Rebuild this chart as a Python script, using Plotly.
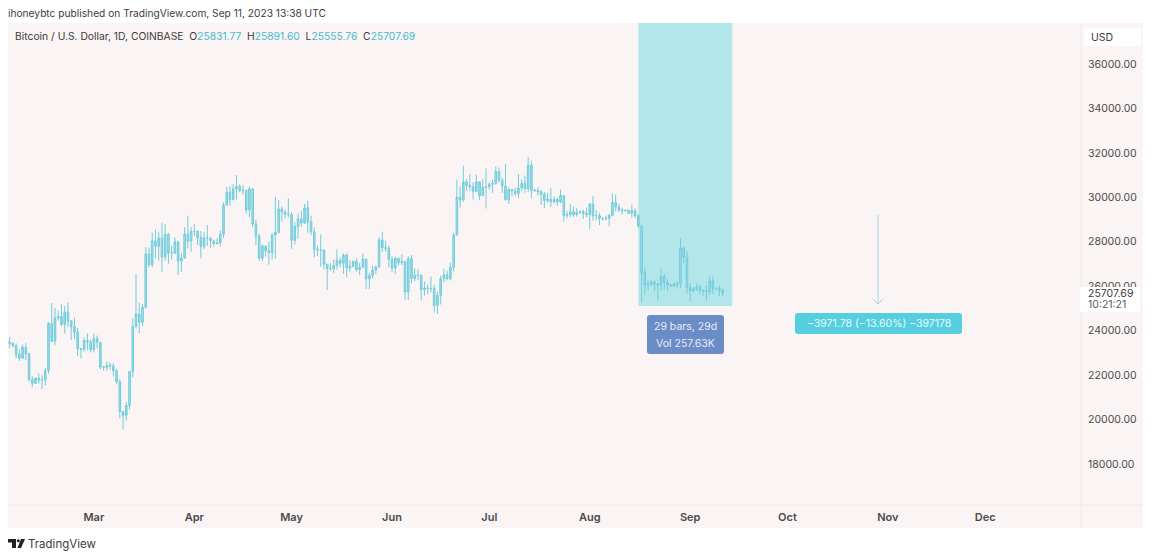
import pandas as pd
import plotly.graph_objects as go

# daily candles, Feb 3 - Sep 11 2023
start_date = "2023-02-03"

opens = [
    23490, 23430, 23330, 22940, 22760, 23250, 22960, 21800, 21630, 21860, 21780, 21780, 22200,
    24330, 23520, 24570, 24630, 24280, 24840, 24440, 24180, 23930, 23190, 23160, 23560, 23490,
    23140, 23640, 23470, 22360, 22350, 22430, 22410, 22200, 21710, 20360, 20190, 20630, 22160,
    24200, 24750, 24380, 25050, 27450, 26970, 28040, 27800, 28170, 27310, 28340, 27490, 27490,
    28000, 27140, 27270, 28350, 28030,
    28470, 28460, 28200, 27800, 28170, 28170, 28040, 27920, 27950, 28330, 29650, 30230, 29890,
    30390, 30480, 30310, 30320, 29430, 30380, 28800, 28250, 27260, 27810, 27590, 27510, 28300,
    28420, 29470, 29340, 29240,
    29230, 28070, 28680, 29030, 28840, 29530, 28900, 28450, 27660, 27630, 27630, 26990, 26800,
    26780, 26930, 27170, 27030, 27400, 26820, 26890, 27110, 26750, 26850, 27220, 26330, 26480,
    26720, 26870, 28080, 27740, 27700,
    27210, 26820, 27250, 27070, 27120, 25740, 27240, 26350, 26500, 26480, 25850, 25920, 25900,
    25900, 25130, 25590, 26340, 26510, 26340, 26850, 28310, 30000, 29890, 30690, 30540, 30480,
    30270, 30690, 30080, 30450,
    30480, 30590, 30620, 31160, 30770, 30510, 29900, 30350, 30290, 30170, 30420, 30620, 30390,
    31450, 30320, 30300, 30250, 30140, 29860, 29910, 29800, 29900, 29790, 30080, 29180, 29230,
    29350, 29220, 29320, 29360, 29280,
    29230, 29700, 29170, 29180, 29050, 29040, 29050, 29180, 29770, 29560, 29430, 29400, 29420,
    29280, 29400, 29170, 28700, 26620, 26050, 26100, 26190, 26120, 26040, 26430, 26160, 26060,
    26010, 26090, 26110, 27720, 27300,
    25930, 25800, 25870, 25970, 25820, 25780, 25750, 26240, 25900, 25900, 25831.77,
]
highs = [
    23710, 23470, 23430, 23160, 23370, 23450, 23010, 21950, 21910, 22090, 21990, 22320, 24380,
    25250, 25020, 24900, 25190, 25120, 25280, 24480, 24580, 24120, 23220, 23680, 23880, 23600,
    23880, 23780, 23470, 22420, 22610, 22560, 22540, 22270, 21820, 20370, 20790, 22180, 24540,
    26550, 25250, 25200, 27760, 27730, 28400, 28550, 28450, 28850, 28800, 28400, 27800, 28200,
    28020, 27500, 28650, 29170, 28650,
    28800, 28530, 28480, 28440, 28750, 28190, 28100, 28170, 28530, 29770, 30470, 30500, 30600,
    31000, 30590, 30550, 30320, 30480, 30410, 28990, 28370, 27880, 27820, 28000, 28400, 30020,
    29880, 29580, 29450, 29950,
    29330, 28880, 29270, 29380, 29700, 29850, 29170, 28630, 27830, 28320, 27640, 26990, 27040,
    27200, 27650, 27300, 27480, 27480, 27180, 27160, 27270, 27050, 27480, 27220, 26600, 26930,
    26920, 28200, 28450, 28050, 27830,
    27350, 27320, 27300, 27450, 27130, 27350, 27400, 26800, 26780, 26530, 26210, 26080, 26430,
    26070, 25750, 26470, 26780, 26700, 27050, 28400, 30800, 30500, 31430, 30810, 31050, 30670,
    31020, 30720, 30830, 31300,
    30670, 30800, 31390, 31330, 30890, 31500, 30450, 30380, 30430, 31050, 30800, 30980, 31820,
    31650, 30390, 30450, 30340, 30250, 30190, 30420, 30050, 29990, 30350, 30100, 29380, 29690,
    29580, 29530, 29410, 29450, 29530,
    29740, 30050, 29430, 29310, 29100, 29170, 29250, 30180, 30130, 29710, 29530, 29450, 29450,
    29670, 29500, 29230, 28780, 26850, 26280, 26290, 26260, 26130, 26820, 26560, 26300, 26110,
    26170, 26220, 28150, 27760, 27580,
    26130, 25970, 26120, 26090, 25860, 26020, 26440, 26430, 25950, 26030, 25891.60,
]
lows = [
    23210, 23250, 22750, 22630, 22740, 22680, 21700, 21450, 21600, 21620, 21370, 21530, 22050,
    23500, 23340, 24450, 24190, 23880, 24150, 23580, 23620, 22860, 22750, 23060, 23110, 23030,
    23020, 23200, 22270, 22200, 22200, 22250, 21940, 21580, 20050, 19560, 19950, 20450, 21900,
    24100, 23900, 24200, 25000, 26850, 26850, 27250, 27150, 26650, 27150, 27020, 27200, 27450,
    26500, 26650, 27240, 27700, 27550,
    28250, 27850, 27260, 27670, 27820, 27730, 27780, 27880, 27800, 28170, 29630, 29620, 29880,
    29900, 30230, 30120, 29270, 29100, 28650, 27850, 27150, 27130, 27330, 26970, 27200, 27240,
    28380, 28900, 29050, 29100,
    27680, 27880, 28130, 28680, 28800, 28400, 28300, 27300, 27350, 26880, 26750, 25830, 26700,
    26600, 26750, 26850, 26550, 26400, 26650, 26850, 26650, 26500, 26820, 25870, 25870, 26350,
    26550, 26830, 27550, 27560, 26850,
    26620, 26560, 26920, 26950, 25400, 25380, 26130, 26230, 26270, 25350, 25580, 25630, 25720,
    24820, 24750, 25180, 26180, 26260, 26260, 26670, 28270, 29530, 29800, 30280, 30300, 29900,
    30230, 29870, 30050, 29500,
    30340, 30200, 30570, 30660, 30200, 29850, 29700, 30050, 30060, 29950, 30300, 30210, 30250,
    29950, 30250, 30080, 29660, 29520, 29750, 29570, 29720, 29620, 29730, 28900, 29060, 29110,
    29130, 29130, 29250, 29030, 29110,
    28580, 28950, 28960, 28750, 28950, 28970, 28700, 29140, 29360, 29320, 29220, 29360, 29260,
    29080, 29070, 28640, 25280, 25610, 25800, 26000, 25800, 25350, 25800, 25850, 25770, 25980,
    25970, 25880, 25920, 27030, 25650,
    25330, 25720, 25780, 25640, 25580, 25360, 25620, 25640, 25800, 25570, 25555.76,
]
closes = [
    23430, 23330, 22940, 22760, 23250, 22960, 21800, 21630, 21860, 21780, 21780, 22200, 24330,
    23520, 24570, 24630, 24280, 24840, 24440, 24180, 23930, 23190, 23160, 23560, 23490, 23140,
    23640, 23470, 22360, 22350, 22430, 22410, 22200, 21710, 20360, 20190, 20630, 22160, 24200,
    24750, 24380, 25050, 27450, 26970, 28040, 27800, 28170, 27310, 28340, 27490, 27490, 28000,
    27140, 27270, 28350, 28030, 28470,
    28460, 28200, 27800, 28170, 28170, 28040, 27920, 27950, 28330, 29650, 30230, 29890, 30390,
    30480, 30310, 30320, 29430, 30380, 28800, 28250, 27260, 27810, 27590, 27510, 28300, 28420,
    29470, 29340, 29240, 29230,
    28070, 28680, 29030, 28840, 29530, 28900, 28450, 27660, 27630, 27630, 26990, 26800, 26780,
    26930, 27170, 27030, 27400, 26820, 26890, 27110, 26750, 26850, 27220, 26330, 26480, 26720,
    26870, 28080, 27740, 27700, 27210,
    26820, 27250, 27070, 27120, 25740, 27240, 26350, 26500, 26480, 25850, 25920, 25900, 25900,
    25130, 25590, 26340, 26510, 26340, 26850, 28310, 30000, 29890, 30690, 30540, 30480, 30270,
    30690, 30080, 30450, 30480,
    30590, 30620, 31160, 30770, 30510, 29900, 30350, 30290, 30170, 30420, 30620, 30390, 31450,
    30320, 30300, 30250, 30140, 29860, 29910, 29800, 29900, 29790, 30080, 29180, 29230, 29350,
    29220, 29320, 29360, 29280, 29230,
    29700, 29170, 29180, 29050, 29040, 29050, 29180, 29770, 29560, 29430, 29400, 29420, 29280,
    29400, 29170, 28700, 26620, 26050, 26100, 26190, 26120, 26040, 26430, 26160, 26060, 26010,
    26090, 26110, 27720, 27300, 25930,
    25800, 25870, 25970, 25820, 25780, 25750, 26240, 25900, 25900, 25831.77, 25707.69,
]

price_ticks = [18000, 20000, 22000, 24000, 26000, 28000, 30000, 32000, 34000, 36000]
month_ticks = ["2023-03-01", "2023-04-01", "2023-05-01", "2023-06-01", "2023-07-01",
               "2023-08-01", "2023-09-01", "2023-10-01", "2023-11-01", "2023-12-01"]
month_labels = ["Mar", "Apr", "May", "Jun", "Jul", "Aug", "Sep", "Oct", "Nov", "Dec"]

FONT = "Inter, Roboto, sans-serif"
BG = "#faf4f4"
TEAL = "#3fbccb"

# plot area in page pixels
L, T, R, B = 8, 23, 1081, 505
W, H = 1152, 558


def fx(x):
    return (x - L) / (R - L)


def fy(y):
    return (B - y) / (B - T)


def box(x0, y0, x1, y1, color, layer="above", r=0):
    if r == 0:
        return dict(type="rect", xref="paper", yref="paper", x0=fx(x0), x1=fx(x1),
                    y0=fy(y1), y1=fy(y0), fillcolor=color, line_width=0, layer=layer)
    # rounded corners
    p = (f"M {fx(x0 + r)} {fy(y0)} L {fx(x1 - r)} {fy(y0)} Q {fx(x1)} {fy(y0)} {fx(x1)} {fy(y0 + r)} "
         f"L {fx(x1)} {fy(y1 - r)} Q {fx(x1)} {fy(y1)} {fx(x1 - r)} {fy(y1)} "
         f"L {fx(x0 + r)} {fy(y1)} Q {fx(x0)} {fy(y1)} {fx(x0)} {fy(y1 - r)} "
         f"L {fx(x0)} {fy(y0 + r)} Q {fx(x0)} {fy(y0)} {fx(x0 + r)} {fy(y0)} Z")
    return dict(type="path", xref="paper", yref="paper", path=p, fillcolor=color,
                line_width=0, layer=layer)


def seg(x0, y0, x1, y1, color, width=1):
    return dict(type="line", xref="paper", yref="paper", x0=fx(x0), x1=fx(x1), y0=fy(y0), y1=fy(y1),
                line=dict(color=color, width=width), layer="above")


def poly(points, color):
    p = "M " + " L ".join(f"{fx(x)} {fy(y)}" for x, y in points) + " Z"
    return dict(type="path", xref="paper", yref="paper", path=p, fillcolor=color,
                line_width=0, layer="above")


def label(x, y, text, size=11, color="#4a4a4a", anchor="left", weight=None):
    f = dict(family=FONT, size=size, color=color)
    if weight:
        f["weight"] = weight
    return dict(xref="paper", yref="paper", x=fx(x), y=fy(y), text=text, showarrow=False,
                xanchor=anchor, yanchor="middle", font=f, borderpad=0, borderwidth=0)


dates = pd.date_range(start_date, periods=len(closes), freq="D")

fig = go.Figure(go.Candlestick(
    x=dates, open=opens, high=highs, low=lows, close=closes,
    increasing=dict(line=dict(color="#72ccd9", width=1), fillcolor="#97e0ea"),
    decreasing=dict(line=dict(color="#72ccd9", width=1), fillcolor="#97e0ea"),
    whiskerwidth=0, hoverinfo="skip", showlegend=False,
))

shapes = [
    # axis strips and frame
    box(R, T, 1143, 528, BG, layer="below"),
    box(L, B, 1143, 528, BG, layer="below"),
    seg(R, T, R, 528, "#efeaea"),
    seg(L, B, 1143, B, "#efeaea"),
    # measured range
    dict(type="rect", xref="x", yref="paper", x0="2023-08-16", x1="2023-09-14",
         y0=fy(306), y1=1, fillcolor="#b3e6eb", line_width=0, layer="below"),
    # tooltip boxes
    box(647, 315, 724, 354, "#6b8cc6", r=3),
    box(795, 313, 962, 334, "#55cfe0", r=3),
    # arrow
    seg(878, 215, 878, 304, "#a9d2e4"),
    seg(873, 299, 878, 304, "#a9d2e4"),
    seg(883, 299, 878, 304, "#a9d2e4"),
    # price axis boxes
    box(1084, 28, 1141, 46, "#ffffff", r=2),
    box(1080, 287, 1140, 312, "#ffffff"),
    # logo
    poly([(8, 539), (16, 539), (16, 548), (12, 548), (12, 542.5), (8, 542.5)], "#222222"),
    poly([(21, 539), (25, 539), (21, 548), (17.5, 548)], "#222222"),
    dict(type="circle", xref="paper", yref="paper", x0=fx(16.8), x1=fx(19.8), y0=fy(542.3), y1=fy(539.3),
         fillcolor="#222222", line_width=0, layer="above"),
]

ohlc_line = (
    "Bitcoin / U.S. Dollar, 1D, COINBASE &nbsp;"
    f"O<span style='color:{TEAL}'>25831.77</span> &nbsp;"
    f"H<span style='color:{TEAL}'>25891.60</span> &nbsp;"
    f"L<span style='color:{TEAL}'>25555.76</span> &nbsp;"
    f"C<span style='color:{TEAL}'>25707.69</span>"
)

annotations = [
    label(8, 13, "ihoneybtc published on TradingView.com, Sep 11, 2023 13:38 UTC", size=10.2, color="#3c3c3c"),
    label(15, 36, ohlc_line, size=10.3, color="#3c3c3c"),
    label(1102, 37, "USD", size=10.5, color="#3c3c3c", anchor="center"),
    label(685.5, 326, "29 bars, 29d", size=10.5, color="#e6ecf7", anchor="center"),
    label(685.5, 343, "Vol 257.63K", size=10.5, color="#e6ecf7", anchor="center"),
    label(878.5, 323.5, "\u22123971.78 (\u221213.60%) \u2212397178", size=10.5, color="#e8f9fb", anchor="center"),
    label(1088, 293, "25707.69", size=10.5, color="#3c3c3c"),
    label(1088, 305, "10:21:21", size=10.5, color="#5a5a5a"),
    label(28, 543.5, "TradingView", size=11.5, color="#3c3c3c"),
]

fig.update_layout(
    width=W, height=H,
    margin=dict(l=L, r=W - R, t=T, b=H - B, pad=0),
    paper_bgcolor="#ffffff",
    plot_bgcolor=BG,
    shapes=shapes,
    annotations=annotations,
    showlegend=False,
    hovermode=False,
    font=dict(family=FONT),
)
fig.update_xaxes(
    type="date",
    range=["2023-02-02 12:00", "2023-12-30 14:00"],
    rangeslider_visible=False,
    tickmode="array", tickvals=month_ticks, ticktext=month_labels,
    tickfont=dict(family=FONT, size=11, color="#4a4a4a", weight=600),
    ticks="outside", ticklen=2, tickcolor="rgba(0,0,0,0)",
    showgrid=False, zeroline=False, showline=False,
)
fig.update_yaxes(
    side="right",
    range=[16155, 37845],
    tickmode="array", tickvals=price_ticks, ticktext=[f"{v:.2f}" for v in price_ticks],
    tickfont=dict(family=FONT, size=10.5, color="#4a4a4a"),
    ticks="outside", ticklen=4, tickcolor="rgba(0,0,0,0)",
    showgrid=False, zeroline=False, showline=False,
)

# the page's default body margin would push the figure 8px down and right
fig.write_html("out.html", config=dict(displayModeBar=False),
               post_script="document.body.style.margin = '0';")
